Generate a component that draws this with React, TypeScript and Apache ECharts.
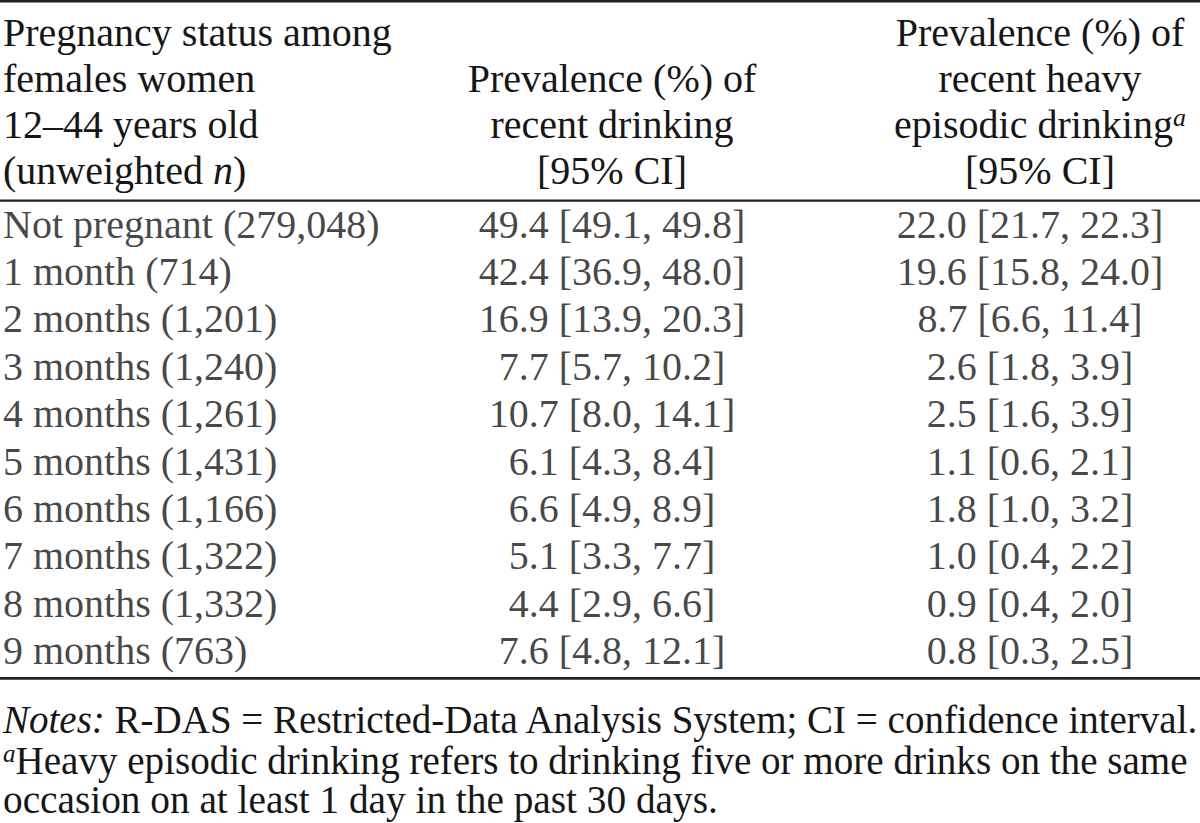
import React, { useEffect, useRef } from "react";
import * as echarts from "echarts";

// ---- Data ----
const statuses = [
  "Not pregnant",
  "1 month",
  "2 months",
  "3 months",
  "4 months",
  "5 months",
  "6 months",
  "7 months",
  "8 months",
  "9 months",
];
const unweightedN = [279048, 714, 1201, 1240, 1261, 1431, 1166, 1322, 1332, 763];

const drinkPct = [49.4, 42.4, 16.9, 7.7, 10.7, 6.1, 6.6, 5.1, 4.4, 7.6];
const drinkLo = [49.1, 36.9, 13.9, 5.7, 8.0, 4.3, 4.9, 3.3, 2.9, 4.8];
const drinkHi = [49.8, 48.0, 20.3, 10.2, 14.1, 8.4, 8.9, 7.7, 6.6, 12.1];

const heavyPct = [22.0, 19.6, 8.7, 2.6, 2.5, 1.1, 1.8, 1.0, 0.9, 0.8];
const heavyLo = [21.7, 15.8, 6.6, 1.8, 1.6, 0.6, 1.0, 0.4, 0.4, 0.3];
const heavyHi = [22.3, 24.0, 11.4, 3.9, 3.9, 2.1, 3.2, 2.2, 2.0, 2.5];

const headerCol1 = ["Pregnancy status among", "females women", "12–44 years old", "(unweighted {i|n})"];
const headerCol2 = ["", "Prevalence (%) of", "recent drinking", "[95% CI]"];
const headerCol3 = ["Prevalence (%) of", "recent heavy", "episodic drinking{s|a}", "[95% CI]"];

const notes = [
  "{i|Notes:} R-DAS = Restricted-Data Analysis System; CI = confidence interval.",
  "{s|a}Heavy episodic drinking refers to drinking five or more drinks on the same",
  "occasion on at least 1 day in the past 30 days.",
];

// ---- Style / layout ----
const FONT = "'Liberation Serif', 'Times New Roman', Times, serif";
const FS = 40;
const NOTE_FS = [39, 39.1, 39.3];
const INK = "#161616";
const COL1_X = 3;
const COL2_X = 612;
const COL3_X = 1030;
const COL3_HEAD_X = 1040;
const HEAD_Y = [32, 78, 124, 170];
const NOTE_Y = [719, 760, 800];

const fmt = (v: number) => v.toFixed(1);
const cell = (p: number[], lo: number[], hi: number[], i: number) =>
  `${fmt(p[i])} [${fmt(lo[i])}, ${fmt(hi[i])}]`;
const rowLabel = (i: number) => `${statuses[i]} (${unweightedN[i].toLocaleString("en-US")})`;

const richFor = (fs: number) => ({
  i: { fontFamily: FONT, fontSize: fs, fontStyle: "italic", fill: INK, color: INK },
  s: {
    fontFamily: FONT,
    fontSize: Math.round(fs * 0.65),
    fontStyle: "italic",
    verticalAlign: "top",
    lineHeight: Math.round(fs * 0.65),
    fill: INK,
    color: INK,
  },
});

function textEl(text: string, x: number, y: number, align: string, fs: number) {
  return {
    type: "text",
    x,
    y,
    silent: true,
    style: {
      text,
      fill: INK,
      fontFamily: FONT,
      fontSize: fs,
      align,
      verticalAlign: "middle",
      rich: richFor(fs),
    },
  };
}

export default function App() {
  const ref = useRef<HTMLDivElement>(null);

  useEffect(() => {
    if (!ref.current) return;
    const chart = echarts.init(ref.current, null, { renderer: "svg" });

    const graphics: any[] = [];
    // rules
    graphics.push({ type: "rect", shape: { x: 0, y: 0, width: 1200, height: 2.6 }, style: { fill: "#222" }, silent: true });
    graphics.push({ type: "rect", shape: { x: 0, y: 199.5, width: 1200, height: 2.2 }, style: { fill: "#222" }, silent: true });
    graphics.push({ type: "rect", shape: { x: 0, y: 677, width: 1200, height: 2.8 }, style: { fill: "#222" }, silent: true });

    headerCol1.forEach((t, k) => t && graphics.push(textEl(t, COL1_X, HEAD_Y[k], "left", FS)));
    headerCol2.forEach((t, k) => t && graphics.push(textEl(t, COL2_X, HEAD_Y[k], "center", FS)));
    headerCol3.forEach((t, k) => t && graphics.push(textEl(t, COL3_HEAD_X, HEAD_Y[k], "center", FS)));
    notes.forEach((t, k) => graphics.push(textEl(t, COL1_X, NOTE_Y[k], "left", NOTE_FS[k])));

    const labelBase = {
      show: true,
      position: "inside",
      color: INK,
      fontFamily: FONT,
      fontSize: FS,
      verticalAlign: "middle",
    };

    const mkSeries = (x: number, align: string, fmtFn: (i: number) => string) => ({
      type: "scatter",
      symbolSize: 1,
      clip: false,
      silent: true,
      itemStyle: { color: "rgba(0,0,0,0)" },
      data: statuses.map((s) => [x, s]),
      label: { ...labelBase, align, formatter: (p: any) => fmtFn(p.dataIndex) },
    });

    chart.setOption({
      animation: false,
      backgroundColor: "#ffffff",
      grid: { left: 0, right: 0, top: 200.3, height: 474, containLabel: false },
      xAxis: { type: "value", min: 0, max: 1200, show: false },
      yAxis: { type: "category", data: statuses, inverse: true, show: false },
      series: [
        mkSeries(COL1_X, "left", rowLabel),
        mkSeries(COL2_X, "center", (i) => cell(drinkPct, drinkLo, drinkHi, i)),
        mkSeries(COL3_X, "center", (i) => cell(heavyPct, heavyLo, heavyHi, i)),
      ],
      graphic: graphics,
    });

    return () => chart.dispose();
  }, []);

  return (
    <div
      ref={ref}
      style={{ position: "absolute", left: 0, top: 0, width: 1200, height: 823, background: "#fff" }}
    />
  );
}
